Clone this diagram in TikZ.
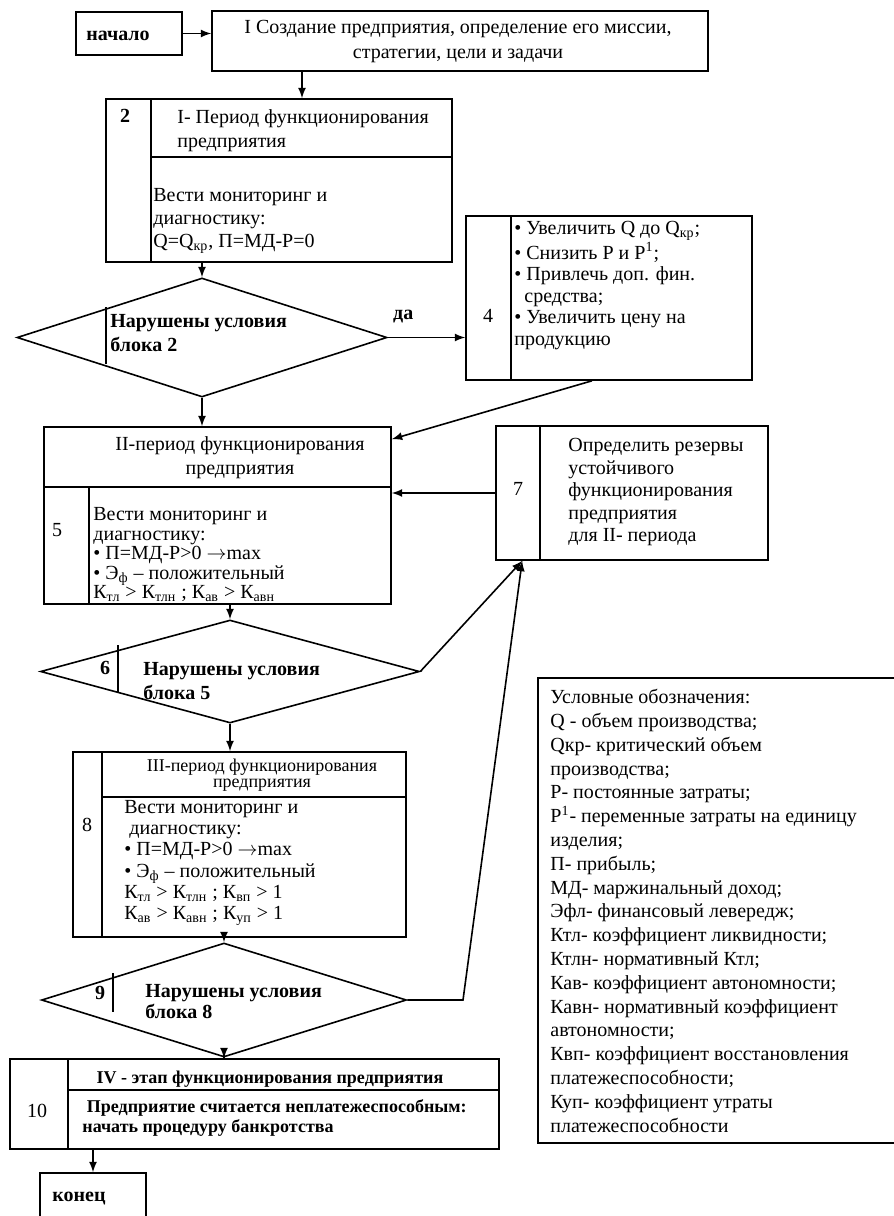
\documentclass[tikz,border=0pt]{standalone}
\usepackage{fontspec}
\setmainfont{Liberation Serif}
\usetikzlibrary{arrows, positioning, fit, shapes.geometric, calc}
\tikzset{%
	block/.style={draw, line width=0.8pt, inner sep=0pt},
	cond/.style={draw, diamond, line width=0.8pt, inner sep=0pt},
	num/.style={inner sep=0pt},
	txt/.style={anchor=north west, align=left, inner sep=0pt},
	flow/.style={-latex, line width=0.8pt},
	connector/.style={line width=0.8pt}
}

\begin{document}
\begin{tikzpicture}[x=0.5pt, y=-0.5pt, font=\fontsize{10}{12}\selectfont]
	\useasboundingbox (0,0) rectangle (894,1216);
	\clip (0,0) rectangle (894,1216);
	\fill[white] (0,0) rectangle (894,1216);

	% blocks
	\node[block, fit={(76,12) (182,55)}] (start) {};
	\node[num, font=\bfseries] (starttext) at (118,36) {начало};
	\node[block, fit={(212,11) (708,71)}] (b1) {};
	\node[align=center, inner sep=0pt, font=\fontsize{10}{12.5}\selectfont] (b1text) at (458,42) {I Создание предприятия, определение его миссии,\\стратегии, цели и задачи};

	\node[block, fit={(106,99) (452,262)}] (b2) {};
	\node[num, font=\bfseries] (b2num) at (125,116) {2};
	\node[txt, font=\fontsize{10}{12}\selectfont] (b2title) at (177,109) {I- Период функционирования\\предприятия};
	\node[txt, font=\fontsize{10}{11.5}\selectfont] (b2body) at (153,188) {Вести мониторинг и\\диагностику:\\Q=Q\textsubscript{кр}, П=МД-Р=0};
	\draw[connector] (151,99) -- (151,262);
	\draw[connector] (151,157) -- (452,157);

	\node[cond, minimum width=185pt, minimum height=59.5pt] (d3) at (202,337.5) {};
	\node[txt, font=\fontsize{10}{12}\selectfont\bfseries] (d3text) at (110,314) {Нарушены условия\\блока 2};
	\draw[connector] (106,307) -- (106,364);

	\node[block, fit={(466,216) (752,380)}] (b4) {};
	\node[num] (b4num) at (488,316) {4};
	\node[txt, font=\fontsize{10}{10.8}\selectfont] (b4body) at (514,221) {• Увеличить Q до Q\textsubscript{кр};\\• Снизить Р и Р\textsuperscript{1};\\• Привлечь доп. фин.\\\ \ средства;\\• Увеличить цену на\\продукцию};
	\draw[connector] (511,216) -- (511,380);

	\node[block, fit={(44,427) (391,604)}] (b5) {};
	\node[align=center, inner sep=0pt, font=\fontsize{10}{12}\selectfont] (b5title) at (240,458) {II-период функционирования\\предприятия};
	\node[num] (b5num) at (57,530) {5};
	\node[txt, font=\fontsize{10}{9.75}\selectfont] (b5body) at (93,507) {Вести мониторинг и\\диагностику:\\• П=МД-Р>0 $\rightarrow$max\\• Э\textsubscript{ф} – положительный\\К\textsubscript{тл} > К\textsubscript{тлн} ; К\textsubscript{ав} > К\textsubscript{авн}};
	\draw[connector] (44,487) -- (391,487);
	\draw[connector] (89,487) -- (89,604);

	\node[block, fit={(496,426) (768,560)}] (b7) {};
	\node[num] (b7num) at (518,489) {7};
	\node[txt, font=\fontsize{10}{11.25}\selectfont] (b7body) at (568,438) {Определить резервы\\устойчивого\\функционирования\\предприятия\\для II- периода};
	\draw[connector] (540,426) -- (540,560);

	\node[cond, minimum width=189.5pt, minimum height=51.5pt] (d6) at (230,671.5) {};
	\node[num, font=\bfseries] (d6num) at (105,668) {6};
	\node[txt, font=\fontsize{10}{12}\selectfont\bfseries] (d6text) at (143,662) {Нарушены условия\\блока 5};
	\draw[connector] (118,645) -- (118,693);

	\node[block, fit={(73,752) (406,937)}] (b8) {};
	\node[align=center, inner sep=0pt, font=\fontsize{9}{8}\selectfont] (b8title) at (262,775) {III-период функционирования\\предприятия};
	\node[num] (b8num) at (87,825) {8};
	\node[txt, font=\fontsize{10}{10.6}\selectfont] (b8body) at (124,800) {Вести мониторинг и\\\ диагностику:\\• П=МД-Р>0 $\rightarrow$max\\• Э\textsubscript{ф} – положительный\\К\textsubscript{тл} > К\textsubscript{тлн} ; К\textsubscript{вп} > 1\\К\textsubscript{ав} > К\textsubscript{авн} ; К\textsubscript{уп} > 1};
	\draw[connector] (102,752) -- (102,937);
	\draw[connector] (102,797) -- (406,797);

	\node[cond, minimum width=182.5pt, minimum height=57pt] (d9) at (224,1000) {};
	\node[num, font=\bfseries] (d9num) at (100,993) {9};
	\node[txt, font=\fontsize{10}{10.5}\selectfont\bfseries] (d9text) at (145,984) {Нарушены условия\\блока 8};
	\draw[connector] (113,973) -- (113,1012);

	\node[block, fit={(10,1059) (499,1149)}] (b10) {};
	\node[num] (b10num) at (37,1111) {10};
	\node[inner sep=0pt, font=\fontsize{9}{11}\selectfont\bfseries] (b10title) at (270,1079) {IV - этап функционирования предприятия};
	\node[txt, font=\fontsize{9}{10}\selectfont\bfseries] (b10body) at (82,1099) {\ Предприятие считается неплатежеспособным:\\начать процедуру банкротства};
	\draw[connector] (68,1059) -- (68,1149);
	\draw[connector] (68,1090) -- (499,1090);

	\node[block, fit={(40,1173) (146,1240)}] (end) {};
	\node[num, font=\bfseries, anchor=west] (endtext) at (52,1199) {конец};

	\node[block, fit={(538,678) (920,1143)}] (legend) {};
	\node[txt, font=\fontsize{10}{11.9}\selectfont] (legendtext) at (550,689) {Условные обозначения:\\Q - объем производства;\\Qкр- критический объем\\производства;\\Р- постоянные затраты;\\Р\textsuperscript{1}- переменные затраты на единицу\\изделия;\\П- прибыль;\\МД- маржинальный доход;\\Эфл- финансовый левередж;\\Ктл- коэффициент ликвидности;\\Ктлн- нормативный Ктл;\\Кав- коэффициент автономности;\\Кавн- нормативный коэффициент\\автономности;\\Квп- коэффициент восстановления\\платежеспособности;\\Куп- коэффициент утраты\\платежеспособности};

	% connectors
	\coordinate (bend9) at (463,1000);
	\draw[flow] (start.east) -- (start.east -| b1.west);
	\draw[flow] (b1.south -| 302,0) -- (b2.north -| 302,0);
	\draw[flow] (b2.south -| d3.north) -- (d3.north);
	\draw[flow] (d3.east) -- node[pos=0.2, above=7pt, inner sep=0pt, font=\bfseries] (yes) {да} (d3.east -| b4.west);
	\draw[flow] (d3.south) -- (d3.south |- b5.north);
	\draw[flow] ([xshift=-8.5pt]b4.south) -- ([yshift=-6.5pt]b5.north east);
	\draw[flow] (b7.west) -- (b7.west -| b5.east);
	\draw[flow] (b5.south -| d6.north) -- (d6.north);
	\draw[flow] (d6.east) -- ([xshift=13.5pt]b7.south west);
	\draw[flow] (d6.south) -- (d6.south |- b8.north);
	\draw[flow] (b8.south -| d9.north) -- (d9.north);
	\draw[flow] (d9.south) -- (d9.south |- b10.north);
	\draw[flow] (d9.east) -- (bend9) -- ([xshift=13.5pt]b7.south west);
	\draw[flow] (b10.south -| end.north) -- (end.north);
\end{tikzpicture}
\end{document}
